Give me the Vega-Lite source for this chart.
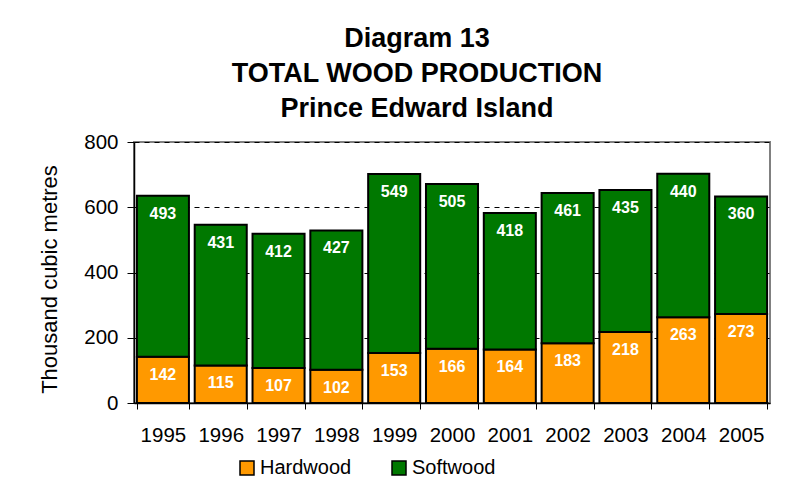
{
  "$schema": "https://vega.github.io/schema/vega-lite/v6.json",
  "autosize": {"type": "none"},
  "width": 636,
  "height": 261,
  "padding": {"left": 134, "top": 142, "right": 21, "bottom": 92},
  "background": "white",
  "title": {
    "text": ["Diagram 13", "TOTAL WOOD PRODUCTION", "Prince Edward Island"],
    "font": "Liberation Sans",
    "fontSize": 27,
    "fontWeight": "bold",
    "color": "black",
    "lineHeight": 35,
    "anchor": "middle",
    "frame": "group",
    "dx": -35,
    "offset": 9
  },
  "data": {
    "values": [
      {"year": "1995", "type": "Hardwood", "value": 142},
      {"year": "1995", "type": "Softwood", "value": 493},
      {"year": "1996", "type": "Hardwood", "value": 115},
      {"year": "1996", "type": "Softwood", "value": 431},
      {"year": "1997", "type": "Hardwood", "value": 107},
      {"year": "1997", "type": "Softwood", "value": 412},
      {"year": "1998", "type": "Hardwood", "value": 102},
      {"year": "1998", "type": "Softwood", "value": 427},
      {"year": "1999", "type": "Hardwood", "value": 153},
      {"year": "1999", "type": "Softwood", "value": 549},
      {"year": "2000", "type": "Hardwood", "value": 166},
      {"year": "2000", "type": "Softwood", "value": 505},
      {"year": "2001", "type": "Hardwood", "value": 164},
      {"year": "2001", "type": "Softwood", "value": 418},
      {"year": "2002", "type": "Hardwood", "value": 183},
      {"year": "2002", "type": "Softwood", "value": 461},
      {"year": "2003", "type": "Hardwood", "value": 218},
      {"year": "2003", "type": "Softwood", "value": 435},
      {"year": "2004", "type": "Hardwood", "value": 263},
      {"year": "2004", "type": "Softwood", "value": 440},
      {"year": "2005", "type": "Hardwood", "value": 273},
      {"year": "2005", "type": "Softwood", "value": 360}
    ]
  },
  "encoding": {
    "x": {
      "field": "year",
      "type": "ordinal",
      "scale": {"paddingInner": 0.1, "paddingOuter": 0.05},
      "axis": {
        "title": null,
        "labelAngle": 0,
        "tickBand": "extent",
        "tickSize": 6,
        "tickColor": "black",
        "domainColor": "black",
        "domainWidth": 1.5,
        "labelFont": "Liberation Sans",
        "labelFontSize": 20.5,
        "labelColor": "black",
        "labelPadding": 16
      }
    },
    "y": {
      "field": "value",
      "type": "quantitative",
      "stack": "zero",
      "scale": {"domain": [0, 800]},
      "axis": {
        "title": "Thousand cubic metres",
        "titleFont": "Liberation Sans",
        "titleFontSize": 22,
        "titleFontWeight": "normal",
        "titleColor": "black",
        "titlePadding": 22,
        "titleY": 137,
        "values": [0, 200, 400, 600, 800],
        "tickSize": 7,
        "tickColor": "black",
        "domainColor": "black",
        "domainWidth": 1.5,
        "labelFont": "Liberation Sans",
        "labelFontSize": 20.5,
        "labelColor": "black",
        "labelPadding": 9,
        "grid": true,
        "gridColor": "black",
        "gridDash": [5, 5],
        "gridWidth": 1
      }
    },
    "order": {"field": "type", "type": "nominal", "sort": "ascending"}
  },
  "layer": [
    {
      "mark": {"type": "bar", "stroke": "black", "strokeWidth": 2},
      "encoding": {
        "color": {
          "field": "type",
          "type": "nominal",
          "scale": {"domain": ["Hardwood", "Softwood"], "range": ["#FF9900", "#007800"]},
          "legend": {
            "title": null,
            "orient": "none",
            "direction": "horizontal",
            "legendX": 103,
            "legendY": 316,
            "symbolType": "square",
            "symbolSize": 196,
            "symbolStrokeColor": "black",
            "symbolStrokeWidth": 1.5,
            "symbolOpacity": 1,
            "labelFont": "Liberation Sans",
            "labelFontSize": 20,
            "labelColor": "black",
            "labelOffset": 3,
            "columnPadding": 37
          }
        }
      }
    },
    {
      "mark": {"type": "text", "color": "white", "fontWeight": "bold", "fontSize": 16, "font": "Liberation Sans", "baseline": "middle", "dy": 18},
      "encoding": {
        "detail": {"field": "type", "type": "nominal"},
        "text": {"field": "value", "type": "quantitative"}
      }
    }
  ],
  "config": {"view": {"stroke": "#808080", "strokeWidth": 2}}
}
